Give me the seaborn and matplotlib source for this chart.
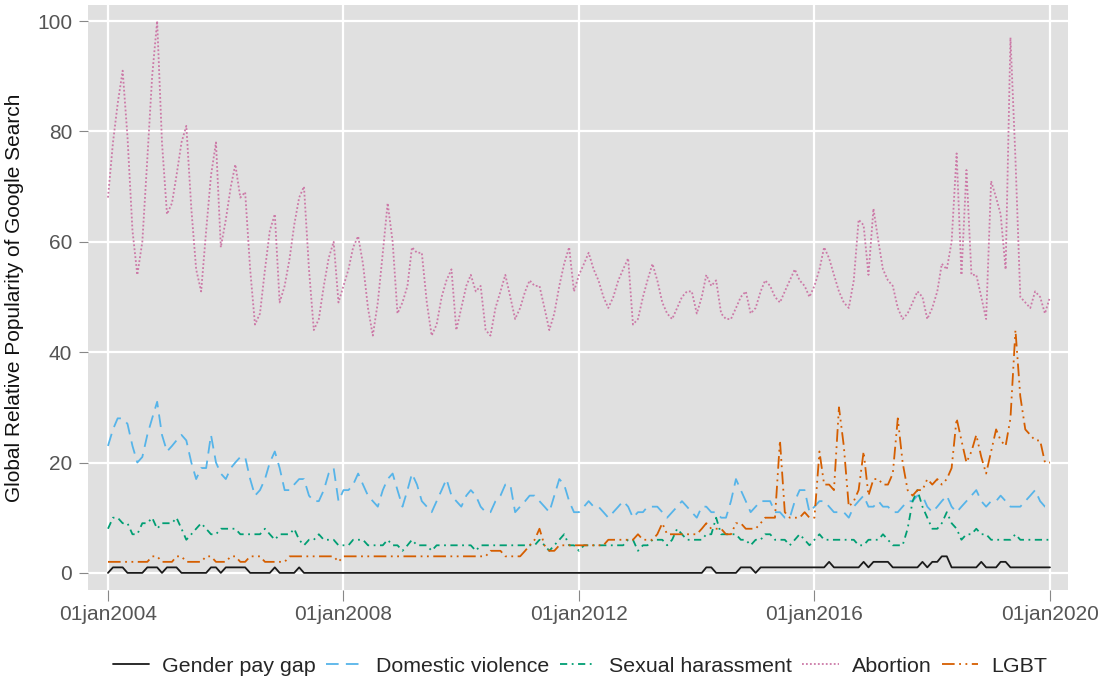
import numpy as np
import pandas as pd
import matplotlib
matplotlib.use("Agg")
import matplotlib.pyplot as plt
import matplotlib.dates as mdates
import seaborn as sns

# Monthly Google Trends index, Jan 2004 - Jan 2020
months = pd.date_range("2004-01-01", "2020-01-01", freq="MS")

gender_pay_gap = [
    0, 1, 1, 1, 0, 0, 0, 0, 1, 1, 1, 0, 1, 1, 1, 0, 0, 0, 0, 0,
    0, 1, 1, 0, 1, 1, 1, 1, 1, 0, 0, 0, 0, 0, 1, 0, 0, 0, 0, 1,
    0, 0, 0, 0, 0, 0, 0, 0, 0, 0, 0, 0, 0, 0, 0, 0, 0, 0, 0, 0,
    0, 0, 0, 0, 0, 0, 0, 0, 0, 0, 0, 0, 0, 0, 0, 0, 0, 0, 0, 0,
    0, 0, 0, 0, 0, 0, 0, 0, 0, 0, 0, 0, 0, 0, 0, 0, 0, 0, 0, 0,
    0, 0, 0, 0, 0, 0, 0, 0, 0, 0, 0, 0, 0, 0, 0, 0, 0, 0, 0, 0,
    0, 0, 1, 1, 0, 0, 0, 0, 0, 1, 1, 1, 0, 1, 1, 1, 1, 1, 1, 1,
    1, 1, 1, 1, 1, 1, 1, 2, 1, 1, 1, 1, 1, 1, 2, 1, 2, 2, 2, 2,
    1, 1, 1, 1, 1, 1, 2, 1, 2, 2, 3, 3, 1, 1, 1, 1, 1, 1, 2, 1,
    1, 1, 2, 2, 1, 1, 1, 1, 1, 1, 1, 1, 1,
]

domestic_violence = [
    23, 26, 28, 28, 27, 23, 20, 21, 25, 28, 31, 25, 22, 23, 24, 25, 24, 20, 17, 19,
    19, 25, 20, 18, 17, 19, 20, 21, 21, 17, 14, 15, 17, 20, 22, 19, 15, 15, 16, 17,
    17, 14, 13, 13, 15, 18, 19, 13, 15, 15, 16, 18, 16, 14, 13, 12, 15, 17, 18, 15,
    12, 15, 18, 16, 13, 12, 11, 13, 15, 17, 14, 13, 12, 14, 15, 14, 12, 11, 11, 13,
    14, 16, 16, 11, 12, 13, 14, 14, 13, 12, 11, 14, 17, 16, 13, 11, 11, 12, 13, 12,
    12, 11, 10, 11, 12, 13, 12, 10, 11, 11, 12, 12, 12, 11, 10, 11, 12, 13, 12, 11,
    10, 12, 12, 11, 11, 10, 10, 13, 17, 15, 13, 11, 12, 13, 13, 13, 11, 11, 10, 10,
    13, 15, 15, 11, 12, 13, 13, 12, 11, 11, 11, 10, 12, 13, 14, 12, 12, 13, 12, 12,
    11, 11, 12, 13, 13, 14, 14, 12, 11, 12, 13, 14, 12, 11, 12, 13, 14, 15, 13, 12,
    13, 13, 14, 13, 12, 12, 12, 13, 14, 15, 13, 12, 12,
]

sexual_harassment = [
    8, 10, 10, 9, 9, 7, 7, 9, 9, 10, 8, 9, 9, 9, 10, 8, 6, 7, 8, 9,
    8, 7, 7, 8, 8, 8, 8, 7, 7, 7, 7, 7, 8, 7, 6, 7, 7, 7, 8, 6,
    5, 6, 6, 7, 6, 6, 6, 5, 5, 5, 6, 6, 6, 5, 5, 5, 5, 6, 5, 5,
    4, 5, 6, 5, 5, 5, 4, 5, 5, 5, 5, 5, 5, 5, 5, 4, 5, 5, 5, 5,
    5, 5, 5, 5, 5, 5, 5, 5, 6, 5, 4, 5, 6, 7, 5, 5, 4, 5, 5, 5,
    5, 5, 5, 5, 5, 5, 6, 6, 4, 5, 5, 6, 6, 6, 5, 6, 8, 7, 6, 6,
    6, 6, 7, 7, 10, 7, 7, 7, 7, 6, 6, 5, 6, 6, 7, 7, 6, 6, 6, 5,
    6, 7, 6, 5, 6, 7, 6, 6, 6, 6, 6, 6, 6, 5, 5, 6, 6, 6, 7, 6,
    5, 5, 5, 8, 13, 15, 12, 10, 8, 8, 9, 11, 9, 8, 6, 7, 7, 8, 7, 7,
    6, 6, 6, 6, 6, 7, 6, 6, 6, 6, 6, 6, 6,
]

abortion = [
    68, 78, 85, 91, 79, 62, 54, 60, 75, 90, 100, 78, 65, 67, 72, 78, 81, 66, 55, 51,
    62, 72, 78, 59, 64, 70, 74, 68, 69, 55, 45, 47, 55, 62, 65, 49, 52, 57, 63, 68,
    70, 55, 44, 46, 52, 57, 60, 49, 52, 55, 59, 61, 56, 48, 43, 49, 58, 67, 60, 47,
    49, 52, 59, 58, 58, 49, 43, 45, 50, 53, 55, 44, 48, 52, 54, 51, 52, 44, 43, 48,
    51, 54, 50, 46, 48, 51, 53, 52, 52, 48, 44, 47, 52, 56, 59, 51, 54, 56, 58, 55,
    53, 50, 48, 50, 53, 55, 57, 45, 46, 50, 53, 56, 53, 49, 47, 46, 48, 50, 51, 51,
    47, 50, 54, 52, 53, 47, 46, 46, 48, 50, 51, 47, 48, 51, 53, 52, 50, 49, 51, 53,
    55, 53, 52, 50, 52, 55, 59, 57, 54, 51, 49, 48, 53, 64, 63, 54, 66, 60, 55, 53,
    52, 48, 46, 47, 49, 51, 50, 46, 48, 51, 56, 55, 60, 76, 54, 73, 54, 54, 50, 46,
    71, 68, 65, 55, 97, 75, 50, 49, 48, 51, 50, 47, 50,
]

lgbt = [
    2, 2, 2, 2, 2, 2, 2, 2, 2, 3, 3, 2, 2, 2, 3, 3, 2, 2, 2, 2,
    3, 3, 2, 2, 2, 3, 3, 2, 2, 3, 3, 3, 2, 2, 2, 2, 2, 3, 3, 3,
    3, 3, 3, 3, 3, 3, 3, 2, 3, 3, 3, 3, 3, 3, 3, 3, 3, 3, 3, 3,
    3, 3, 3, 3, 3, 3, 3, 3, 3, 3, 3, 3, 3, 3, 3, 3, 3, 3, 4, 4,
    4, 3, 3, 3, 3, 4, 5, 6, 8, 5, 4, 4, 5, 5, 5, 5, 5, 5, 5, 5,
    5, 5, 6, 6, 6, 6, 6, 6, 7, 6, 6, 6, 7, 9, 7, 7, 7, 7, 7, 7,
    7, 8, 9, 8, 8, 8, 7, 7, 9, 9, 8, 8, 8, 9, 10, 10, 10, 24, 11, 10,
    10, 10, 11, 10, 10, 22, 16, 16, 15, 30, 23, 12, 13, 15, 22, 14, 17, 17, 16, 16,
    18, 28, 20, 15, 14, 15, 15, 17, 16, 17, 16, 17, 19, 28, 24, 20, 22, 25, 21, 18,
    22, 26, 24, 23, 28, 44, 32, 26, 25, 24, 24, 20, 20,
]

series_names = ["Gender pay gap", "Domestic violence", "Sexual harassment", "Abortion", "LGBT"]
series_values = [gender_pay_gap, domestic_violence, sexual_harassment, abortion, lgbt]

frames = []
for name, vals in zip(series_names, series_values):
    frames.append(pd.DataFrame({"date": months, "value": vals, "series": name}))
df = pd.concat(frames, ignore_index=True)

palette = {
    "Gender pay gap": "#1a1a1a",
    "Domestic violence": "#56B4E9",
    "Sexual harassment": "#009E73",
    "Abortion": "#CC79A7",
    "LGBT": "#D55E00",
}
dashes = {
    "Gender pay gap": "",
    "Domestic violence": (7, 4),
    "Sexual harassment": (4, 2.5, 1, 2.5),
    "Abortion": (1, 1.2),
    "LGBT": (7, 2.5, 1, 2.5, 1, 2.5),
}

sns.set_style("white")
plt.rcParams["font.family"] = ["Liberation Sans", "DejaVu Sans"]

fig = plt.figure(figsize=(11.05, 6.84), dpi=100)
ax = fig.add_axes([88 / 1105, 1 - 590 / 684, (1068 - 88) / 1105, (590 - 5) / 684])
ax.set_facecolor("#E0E0E0")

sns.lineplot(
    data=df, x="date", y="value", hue="series", style="series",
    hue_order=series_names, style_order=series_names,
    palette=palette, dashes=dashes, linewidth=1.3, ax=ax, legend="full",
)

ax.set_xlim(pd.Timestamp("2004-01-01") - pd.Timedelta(days=124),
            pd.Timestamp("2020-01-01") + pd.Timedelta(days=112))
ax.set_ylim(-3.1, 102.9)

tick_dates = [pd.Timestamp(f"{y}-01-01") for y in (2004, 2008, 2012, 2016, 2020)]
ax.set_xticks(tick_dates)
ax.xaxis.set_major_formatter(mdates.DateFormatter("01jan%Y"))
ax.set_yticks([0, 20, 40, 60, 80, 100])

ax.grid(True, color="white", linewidth=1.6)
ax.set_axisbelow(True)
for s in ax.spines.values():
    s.set_visible(False)

ax.tick_params(axis="x", direction="out", length=8, width=0.8, color="#888888",
               labelsize=15, labelcolor="#555555", pad=3, bottom=True)
ax.tick_params(axis="y", direction="out", length=6.5, width=0.8, color="#888888",
               labelsize=15, labelcolor="#555555", pad=5, left=True)

ax.set_xlabel("")
ax.set_ylabel("Global Relative Popularity of Google Search", fontsize=15,
              color="#111111", labelpad=9)

handles, labels = ax.get_legend_handles_labels()
ax.legend_.remove()
fig.legend(handles, labels, loc="center", bbox_to_anchor=(580 / 1105, 1 - 666 / 684),
           ncol=5, frameon=False, fontsize=15.4, handlelength=1.7,
           columnspacing=0.5, handletextpad=0.6)

fig.savefig("out.png", dpi=100, facecolor="white")
